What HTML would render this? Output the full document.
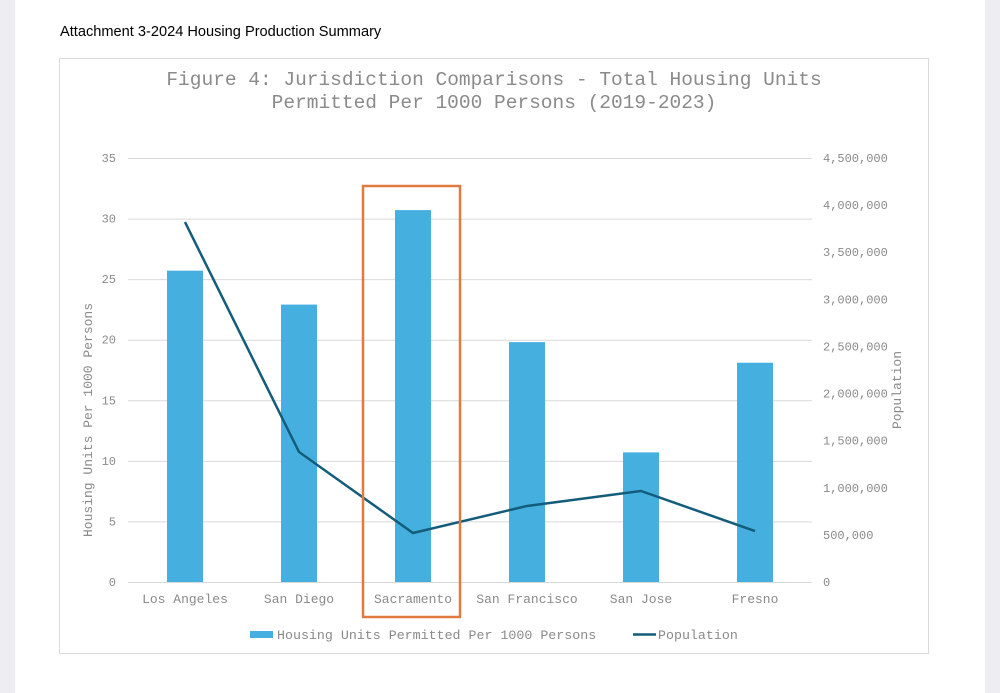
<!DOCTYPE html>
<html><head><meta charset="utf-8"><style>
body{margin:0;width:1000px;height:693px;background:#ededf2;overflow:hidden;font-family:"Liberation Sans",sans-serif}
#page{position:absolute;left:15px;top:0;width:970px;height:693px;background:#fff}
#hdr{position:absolute;left:60px;top:24px;font-size:14.6px;color:#000}
svg{position:absolute;left:0;top:0}
text{font-family:"Liberation Mono",monospace;fill:#8a8a8a}
</style></head><body>
<div id="page"></div>
<div id="hdr">Attachment 3-2024 Housing Production Summary</div>
<svg id="chart" width="1000" height="693">
<rect x="59.5" y="58.5" width="869" height="595" fill="#fff" stroke="#d9d9d9"/>
<text x="494" y="85" text-anchor="middle" font-size="19.5">Figure 4: Jurisdiction Comparisons - Total Housing Units</text>
<text x="494" y="108" text-anchor="middle" font-size="19.5">Permitted Per 1000 Persons (2019-2023)</text>
<text transform="translate(92,420) rotate(-90)" text-anchor="middle" font-size="13">Housing Units Per 1000 Persons</text>
<text transform="translate(901,390) rotate(-90)" text-anchor="middle" font-size="13">Population</text>
<g id="grid"></g><g id="bars"></g><g id="line"></g><g id="labels"></g>
<rect x="363" y="186" width="97" height="431" fill="none" stroke="#e07a3f" stroke-width="2.5"/>
<rect x="250" y="631" width="23" height="7" fill="#45b0e0"/>
<text x="277" y="639" font-size="13.3">Housing Units Permitted Per 1000 Persons</text>
<line x1="633" y1="634.5" x2="656" y2="634.5" stroke="#135c7a" stroke-width="2.5"/>
<text x="658" y="639" font-size="13.3">Population</text>
</svg>
<script>
const categories=["Los Angeles","San Diego","Sacramento","San Francisco","San Jose","Fresno"];
const unitsPer1000=[25.7,22.9,30.7,19.8,10.7,18.1];
const population=[3820000,1380000,520000,807000,966000,541000];
const leftTicks=[0,5,10,15,20,25,30,35];
const rightTicks=[0,500000,1000000,1500000,2000000,2500000,3000000,3500000,4000000,4500000];
const NS="http://www.w3.org/2000/svg";
const x0=128,x1=812,yb=582,yt=158;
const xc=i=>x0+(x1-x0)/categories.length*(i+0.5);
const yL=v=>yb-(yb-yt)*v/35;
const yR=v=>yb-(yb-yt)*v/4500000;
function mk(t,a,p){const e=document.createElementNS(NS,t);for(const k in a)e.setAttribute(k,a[k]);document.getElementById(p).appendChild(e);return e;}
leftTicks.forEach(v=>{
 const l=mk('line',{x1:x0,x2:x1,y1:yL(v)+.5,y2:yL(v)+.5,stroke:'#d9d9d9'},'grid');
 
 
 const t=mk('text',{x:116,y:yL(v)+4,'text-anchor':'end','font-size':12},'labels');t.textContent=v;
 
 
});
rightTicks.forEach(v=>{
 const t=mk('text',{x:823,y:yR(v)+4,'font-size':12},'labels');t.textContent=v.toLocaleString('en-US');
 
 
});
categories.forEach((c,i)=>{
 const b=mk('rect',{x:xc(i)-18,y:yL(unitsPer1000[i]),width:36,height:yb-yL(unitsPer1000[i]),fill:'#45b0e0'},'bars');
 
 
 const t=mk('text',{x:xc(i),y:603,'text-anchor':'middle','font-size':13},'labels');t.textContent=c;
 
 
});
const pl=mk('polyline',{points:population.map((v,i)=>xc(i)+','+yR(v)).join(' '),fill:'none',stroke:'#135c7a','stroke-width':2.5},'line');


</script>
</body></html>
